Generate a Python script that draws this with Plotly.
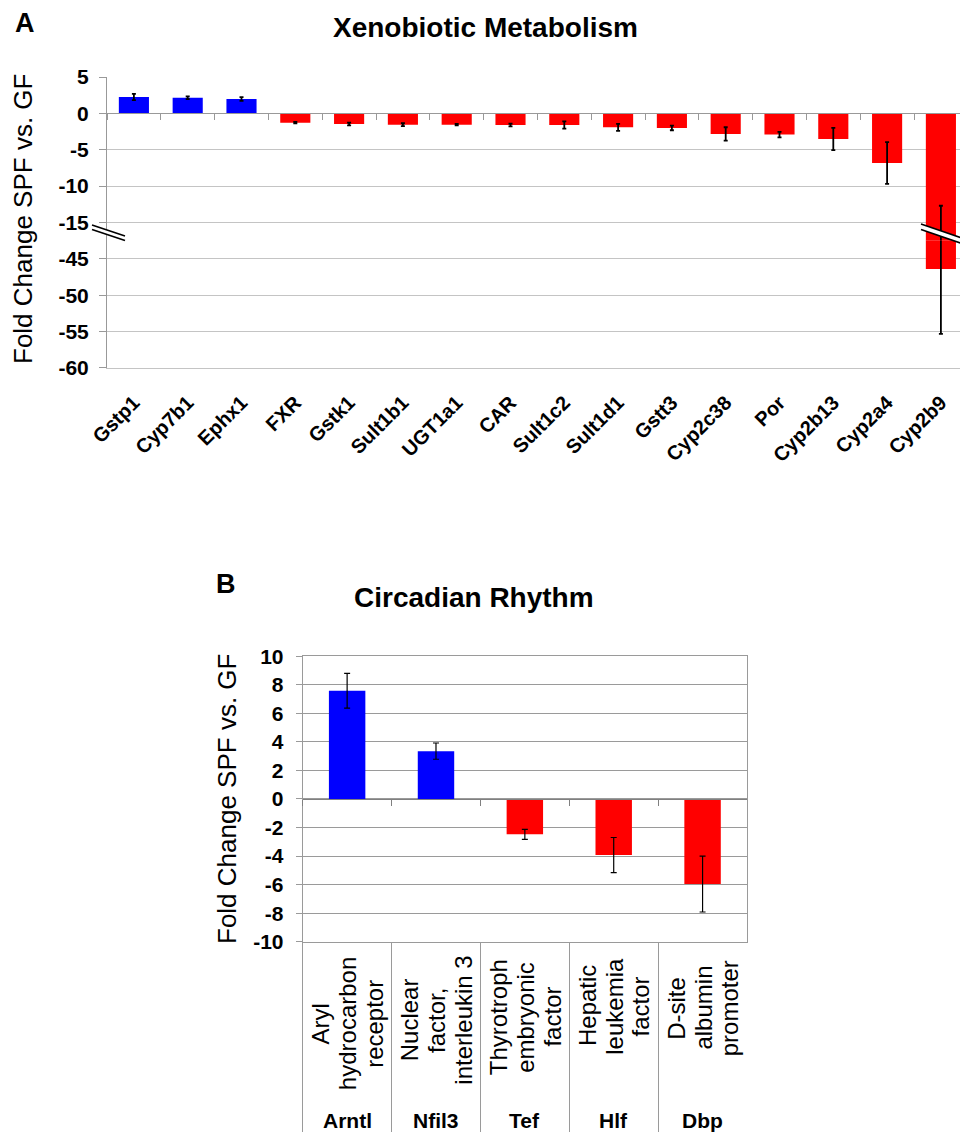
import plotly.graph_objects as go

W, H = 960, 1132
FONT = "Liberation Sans, Arial, sans-serif"

# ---------------- data ----------------
genes_a = ["Gstp1", "Cyp7b1", "Ephx1", "FXR", "Gstk1", "Sult1b1", "UGT1a1", "CAR",
           "Sult1c2", "Sult1d1", "Gstt3", "Cyp2c38", "Por", "Cyp2b13", "Cyp2a4", "Cyp2b9"]
fold_a = [2.25, 2.15, 1.97, -1.28, -1.46, -1.56, -1.56, -1.6,
          -1.6, -1.92, -2.0, -2.83, -2.92, -3.53, -6.82, -46.4]
err_a_up = [0.42, 0.2, 0.25, 0.1, 0.2, 0.2, 0.1, 0.2,
            0.5, 0.48, 0.32, 0.92, 0.37, 1.53, 2.86, 33.7]
err_a_down = [0.42, 0.2, 0.25, 0.1, 0.2, 0.2, 0.1, 0.2,
              0.5, 0.48, 0.32, 0.92, 0.37, 1.53, 2.86, 8.9]
ticks_a_upper = [5, 0, -5, -10, -15]
ticks_a_lower = [-45, -50, -55, -60]

genes_b = ["Arntl", "Nfil3", "Tef", "Hlf", "Dbp"]
names_b = [["Aryl", "hydrocarbon", "receptor"],
           ["Nuclear", "factor,", "interleukin 3"],
           ["Thyrotroph", "embryonic", "factor"],
           ["Hepatic", "leukemia", "factor"],
           ["D-site", "albumin", "promoter"]]
fold_b = [7.58, 3.35, -2.48, -3.93, -5.96]
err_b = [1.22, 0.57, 0.35, 1.23, 1.96]
ticks_b = [10, 8, 6, 4, 2, 0, -2, -4, -6, -8, -10]

title_a = "Xenobiotic Metabolism"
title_b = "Circadian Rhythm"
ytitle = "Fold Change SPF vs. GF"

BLUE, RED = "#0000FF", "#FF0000"
colors_a = [BLUE if v > 0 else RED for v in fold_a]
colors_b = [BLUE if v > 0 else RED for v in fold_b]


def px_x(px):
    return px / W


def px_y(py):
    return 1 - py / H


def hy(vals):
    return [str(v) for v in vals]


# ---------------- geometry (pixels) ----------------
A_left, A_right, A_top = 107, 960, 77
A_unit = 7.275          # px per fold-change unit
A_cat = 53.8            # px per category
up_rng = [-17.5, 5]
lo_rng = [-60, -42.5]
A_break = A_top + (up_rng[1] - up_rng[0]) * A_unit
A_bottom = A_break + (lo_rng[1] - lo_rng[0]) * A_unit
xr_a = [-0.5, -0.5 + (A_right - A_left) / A_cat]

dom_xa = [px_x(A_left), px_x(A_right)]
dom_up = [px_y(A_break), px_y(A_top)]
dom_lo = [px_y(A_bottom), px_y(A_break)]
zero_a = dom_up[0] + (0 - up_rng[0]) / (up_rng[1] - up_rng[0]) * (dom_up[1] - dom_up[0])

B_left, B_right, B_top, B_bottom = 302.7, 747, 656.2, 941.7
dom_xb = [px_x(B_left), px_x(B_right)]
dom_yb = [px_y(B_bottom), px_y(B_top)]
yr_b = [-10, 10]
zero_b = dom_yb[0] + (0 - yr_b[0]) / (yr_b[1] - yr_b[0]) * (dom_yb[1] - dom_yb[0])

GRID_A = "#c4c4c4"
AX_A = "#999999"
GRID_B = "#9a9a9a"

fig = go.Figure()

err_a = dict(type="data", symmetric=False, array=err_a_up, arrayminus=err_a_down,
             color="black", thickness=1.8, width=2)
for xa, ya in (("x", "y"), ("x2", "y2")):
    fig.add_trace(go.Bar(x=genes_a, y=fold_a, marker=dict(color=colors_a, line=dict(width=0)),
                         width=0.56, error_y=err_a, xaxis=xa, yaxis=ya,
                         showlegend=False, hoverinfo="x+y"))

fig.add_trace(go.Bar(x=genes_b, y=fold_b, marker=dict(color=colors_b, line=dict(width=0)),
                     width=0.41,
                     error_y=dict(type="data", array=err_b, color="black", thickness=1.2, width=3),
                     xaxis="x3", yaxis="y3", showlegend=False, hoverinfo="x+y"))
# carrier for the zero-line axis of panel B
fig.add_trace(go.Scatter(x=genes_b, y=[0] * len(genes_b), xaxis="x4", yaxis="y3",
                         mode="markers", marker=dict(opacity=0), hoverinfo="skip",
                         showlegend=False))

tickfont = dict(family=FONT, size=21, color="black", weight="bold")

fig.update_layout(
    width=W, height=H, autosize=False,
    margin=dict(l=0, r=0, t=0, b=0),
    paper_bgcolor="white", plot_bgcolor="white",
    font=dict(family=FONT, color="black"),
    # panel A upper (axis line = zero line)
    xaxis=dict(domain=dom_xa, range=xr_a, type="category", anchor="free", position=zero_a,
               showline=True, linecolor=AX_A, linewidth=1, ticks="outside",
               tickson="boundaries", ticklen=6, tickcolor=AX_A, showticklabels=False,
               showgrid=False, zeroline=False, automargin=False),
    yaxis=dict(domain=dom_up, range=up_rng, anchor="x", tickvals=ticks_a_upper,
               ticktext=hy(ticks_a_upper),
               showgrid=True, gridcolor=GRID_A, gridwidth=1.3, zeroline=False,
               showline=True, linecolor=AX_A, ticks="outside", ticklen=7, tickcolor=AX_A,
               tickfont=tickfont, ticklabelstandoff=6, automargin=False),
    # panel A lower
    xaxis2=dict(domain=dom_xa, range=xr_a, type="category", anchor="y2",
                showline=True, linecolor=GRID_A, linewidth=1.3, ticks="",
                tickangle=-45, tickfont=dict(family=FONT, size=20, color="black", weight="bold"),
                ticklabelstandoff=14, showgrid=False, zeroline=False, automargin=False),
    yaxis2=dict(domain=dom_lo, range=lo_rng, anchor="x2", tickvals=ticks_a_lower,
                ticktext=hy(ticks_a_lower),
                showgrid=True, gridcolor=GRID_A, gridwidth=1.3, zeroline=False,
                showline=True, linecolor=AX_A, ticks="outside", ticklen=7, tickcolor=AX_A,
                tickfont=tickfont, ticklabelstandoff=6, automargin=False),
    # panel B
    xaxis3=dict(domain=dom_xb, range=[-0.5, len(genes_b) - 0.5], type="category", anchor="y3",
                showline=True, mirror=True, linecolor=GRID_B, ticks="outside",
                tickson="boundaries", ticklen=int(H - B_bottom) + 4, tickcolor=GRID_B,
                showticklabels=False, showgrid=False, zeroline=False, automargin=False),
    xaxis4=dict(overlaying="x3", range=[-0.5, len(genes_b) - 0.5], type="category",
                anchor="free", position=zero_b, showline=True, linecolor="#808080",
                ticks="outside", tickson="boundaries", ticklen=6, tickcolor="#808080",
                showticklabels=False, showgrid=False, zeroline=False, automargin=False),
    yaxis3=dict(domain=dom_yb, range=yr_b, anchor="x3", tickvals=ticks_b, ticktext=hy(ticks_b),
                showgrid=True, gridcolor=GRID_B, zeroline=False,
                showline=True, mirror=True, linecolor=GRID_B, ticks="outside", ticklen=6,
                tickcolor=GRID_B, tickfont=tickfont, ticklabelstandoff=8, automargin=False),
)


def label(text, xpx, ypx, size, angle=0):
    return dict(text=text, x=px_x(xpx), y=px_y(ypx), xref="paper", yref="paper",
                xanchor="center", yanchor="middle", textangle=angle, showarrow=False,
                font=dict(family=FONT, size=size))


ann = [
    label("<b>A</b>", 25, 23, 27),
    label("<b>%s</b>" % title_a, 485, 28, 28),
    label("<b>B</b>", 226, 584, 27),
    label("<b>%s</b>" % title_b, 474, 597, 28),
    label(ytitle, 23, 219, 26, -90),
    label(ytitle, 227, 799, 26, -90),
]

desc_center_px = [1024, 1020, 1017, 1006, 1008]
line_pitch = 26.7
for gene, lines, cy in zip(genes_b, names_b, desc_center_px):
    n = len(lines)
    for i, ln in enumerate(lines):
        ann.append(dict(text=ln, x=gene, xref="x3", y=px_y(cy), yref="paper",
                        xanchor="center", yanchor="middle",
                        textangle=-90, showarrow=False, xshift=(i - (n - 1) / 2) * line_pitch,
                        font=dict(family=FONT, size=24)))
    ann.append(dict(text="<b>%s</b>" % gene, x=gene, xref="x3", y=px_y(1120), yref="paper",
                    xanchor="center", yanchor="middle",
                    showarrow=False, font=dict(family=FONT, size=21)))
fig.update_layout(annotations=ann)


# ---------------- axis-break marks ----------------
def path(pts):
    return "M " + " L ".join("%f,%f" % (px_x(a), px_y(b)) for a, b in pts) + " Z"


shapes = []
for (x0, y0, x1, y1, gap) in [(92, 225, 125, 236, 4.5), (921, 224, 962, 238, 5.5)]:
    shapes.append(dict(type="path", xref="paper", yref="paper",
                       path=path([(x0, y0), (x1, y1), (x1, y1 + gap), (x0, y0 + gap)]),
                       fillcolor="white", line=dict(width=0), layer="above"))
    for dy in (0, gap):
        shapes.append(dict(type="line", xref="paper", yref="paper",
                           x0=px_x(x0), y0=px_y(y0 + dy), x1=px_x(x1), y1=px_y(y1 + dy),
                           line=dict(color="black", width=1.6), layer="above"))
fig.update_layout(shapes=shapes)

# remove the browser's default page margin so the figure fills the window exactly
fig.write_html("out.html", config={"displayModeBar": False},
               post_script="document.body.style.margin='0';document.body.style.overflow='hidden';")
